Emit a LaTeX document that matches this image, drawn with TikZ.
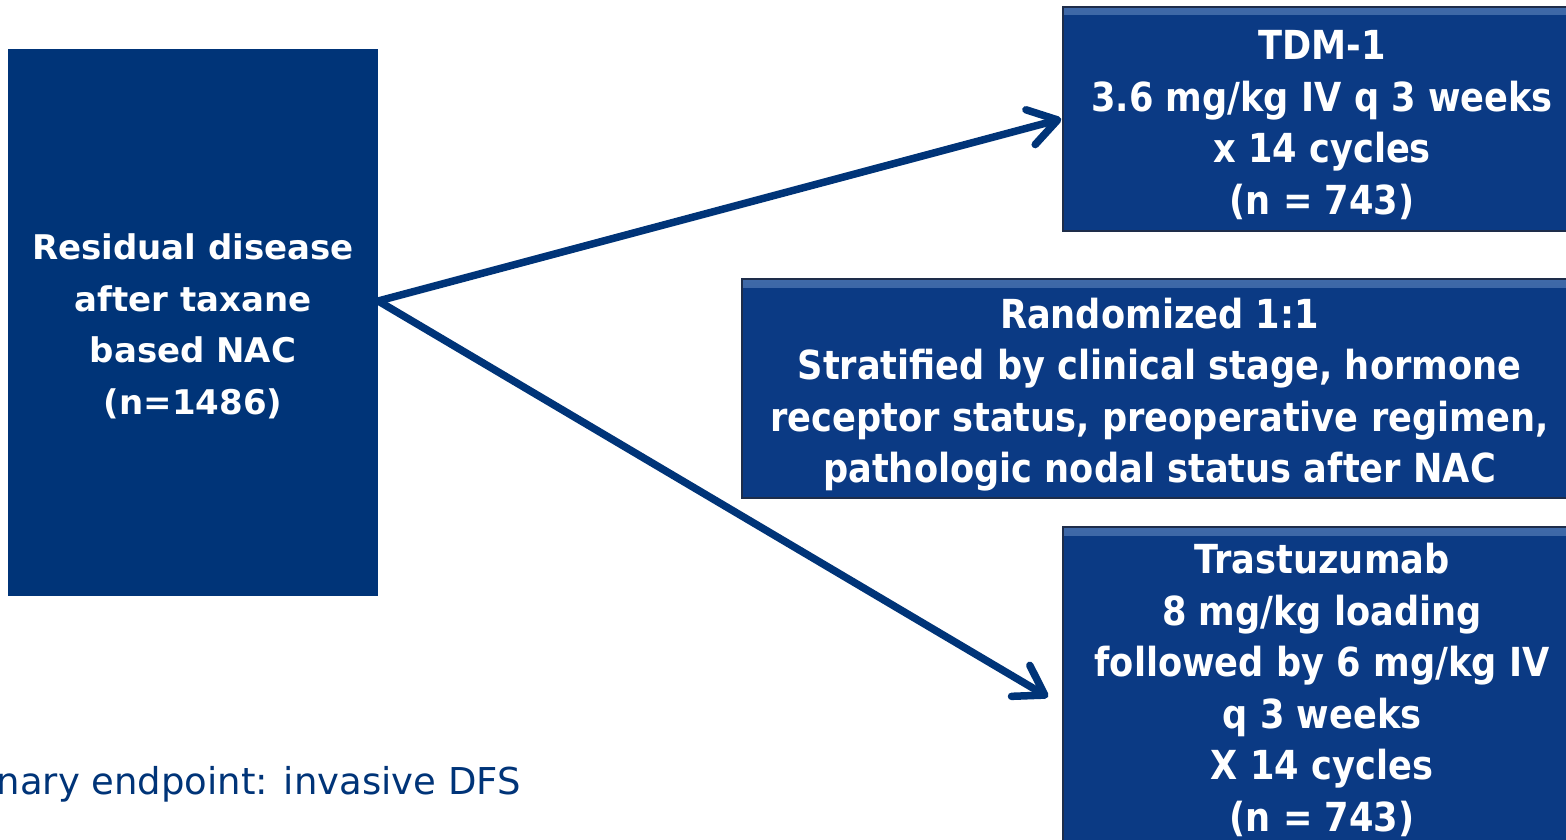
\documentclass[tikz,border=0pt]{standalone}
\usepackage{fontspec}
\setmainfont{DejaVu Sans}
\newfontfamily\boxfont[FakeStretch=0.88]{DejaVu Sans}
\usetikzlibrary{arrows.meta}
\definecolor{navy}{HTML}{003478}
\definecolor{boxblue}{HTML}{0B3A84}
\definecolor{bevel}{HTML}{3F69A8}
\definecolor{edge}{HTML}{1E2D4A}
\newcommand{\lowered}[3]{\raisebox{-#1}[\height][\depth]{\parbox{#2}{\centering #3}}}
\tikzset{
  leftbox/.style={fill=navy, text=white, inner sep=0pt, align=center,
    font=\bfseries\fontsize{34}{51.5}\selectfont},
  rightbox/.style={fill=boxblue, draw=edge, line width=1.5pt, text=white, inner sep=0pt, align=center,
    font=\boxfont\bfseries\fontsize{40}{51.5}\selectfont,
    path picture={\fill[top color=bevel, bottom color=boxblue]
      (path picture bounding box.north west) rectangle ([yshift=-8pt]path picture bounding box.north east);}},
  arr/.style={draw=navy, line width=7.5pt, -{Straight Barb[length=28pt,width=36pt,round]}},
  note/.style={text=navy, inner sep=0pt, font=\fontsize{37}{44}\selectfont}
}
\begin{document}
\begin{tikzpicture}[x=1pt,y=-1pt]
\clip (0,0) rectangle (1566,840);
\fill[white] (0,0) rectangle (1566,840);
\node[leftbox, minimum width=370pt, minimum height=547pt] (res) at (193,322.5)
  {\lowered{4pt}{360pt}{Residual disease\\after taxane\\based NAC\\(n=1486)}};
\node[rightbox, minimum width=518pt, minimum height=224pt] (tdm) at (1322,119)
  {\lowered{6pt}{510pt}{TDM-1\\3.6 mg/kg IV q 3 weeks\\x 14 cycles\\(n = 743)}};
\node[rightbox, minimum width=835pt, minimum height=219pt] (rand) at (1159.5,388.5)
  {\lowered{6pt}{830pt}{Randomized 1:1\\Stratified by clinical stage, hormone\\receptor status, preoperative regimen,\\pathologic nodal status after NAC}};
\node[rightbox, minimum width=518pt, minimum height=323pt] (tra) at (1322,688.5)
  {\lowered{1.5pt}{510pt}{Trastuzumab\\8 mg/kg loading\\followed by 6 mg/kg IV\\q 3 weeks\\X 14 cycles\\(n = 743)}};
\node[note, anchor=base east] (ep) at (521,794) {nary endpoint: invasive DFS};
\coordinate (src) at ([yshift=21.5pt]res.east);
\coordinate (t1) at ([xshift=-1pt]tdm.west);
\coordinate (t2) at (1048,697);
\draw[arr] (src) -- (t1);
\draw[arr] (src) -- (t2);
\end{tikzpicture}
\end{document}
